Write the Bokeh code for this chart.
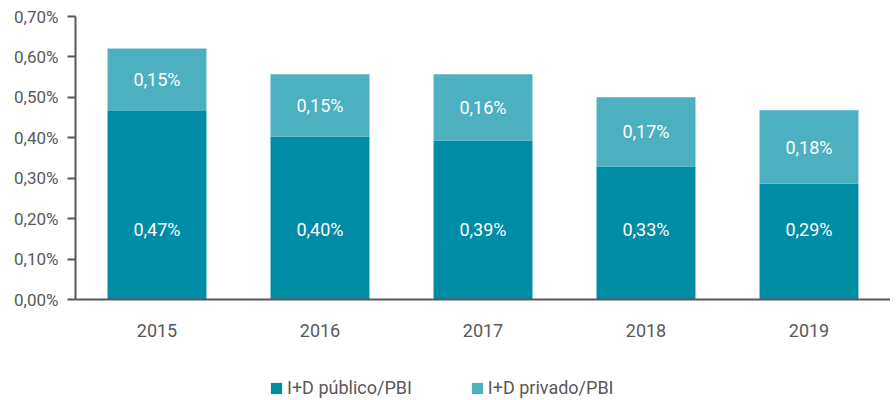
from bokeh.plotting import figure
from bokeh.layouts import column
from bokeh.models import ColumnDataSource, FactorRange, Range1d, Legend, LegendItem, CustomJSTickFormatter, FixedTicker
from bokeh.core.properties import value
from bokeh.embed import file_html
from bokeh.resources import INLINE

years = ["2015", "2016", "2017", "2018", "2019"]
publico = [0.466, 0.403, 0.393, 0.329, 0.286]   # % del PBI
privado = [0.155, 0.154, 0.164, 0.171, 0.182]   # % del PBI
y_ticks = [0.0, 0.1, 0.2, 0.3, 0.4, 0.5, 0.6, 0.7]
serie_names = ["I+D público/PBI", "I+D privado/PBI"]

FONT = "Roboto"
TXT = "#595959"
C_PUB = "#008CA5"
C_PRI = "#4DB0C0"

def fmt(v):
    return f"{v:.2f}".replace(".", ",") + "%"

total = [a + b for a, b in zip(publico, privado)]
src = ColumnDataSource(dict(
    x=years, pub=publico, pri=privado, tot=total,
    pub_lab=[fmt(v) for v in publico],
    pri_lab=[fmt(v) for v in privado],
    pub_y=[0.172] * len(years),
    pri_y=[a + b / 2 for a, b in zip(publico, privado)],
))

W = 890
p = figure(x_range=FactorRange(*years, range_padding=0.0), y_range=Range1d(0, 0.7),
           width=W, height=346, output_backend="svg", toolbar_location=None,
           min_border_left=75, min_border_right=0, min_border_top=16, min_border_bottom=47)
p.outline_line_color = None
p.xgrid.grid_line_color = None
p.ygrid.grid_line_color = None

r1 = p.vbar(x="x", top="pub", bottom=0, width=0.607, source=src, color=C_PUB, line_color=None)
r2 = p.vbar(x="x", top="tot", bottom="pub", width=0.607, source=src, color=C_PRI, line_color=None)

p.text(x="x", y="pub_y", text="pub_lab", source=src, text_color="white", text_align="center",
       text_baseline="middle", text_font=value(FONT), text_font_size="18px")
p.text(x="x", y="pri_y", text="pri_lab", source=src, text_color="white", text_align="center",
       text_baseline="middle", text_font=value(FONT), text_font_size="18px")

p.yaxis.ticker = FixedTicker(ticks=y_ticks)
p.yaxis.formatter = CustomJSTickFormatter(code="return tick.toFixed(2).replace('.', ',') + '%';")
p.yaxis.axis_line_color = TXT
p.yaxis.axis_line_width = 2
p.yaxis.major_tick_line_color = TXT
p.yaxis.major_tick_line_width = 2
p.yaxis.major_tick_out = 8
p.yaxis.major_tick_in = 0
p.yaxis.minor_tick_line_color = None
p.yaxis.major_label_standoff = 9
p.yaxis.major_label_text_font = FONT
p.yaxis.major_label_text_font_size = "17px"
p.yaxis.major_label_text_color = TXT

p.xaxis.axis_line_color = TXT
p.xaxis.axis_line_width = 2
p.xaxis.major_tick_line_color = None
p.xaxis.minor_tick_line_color = None
p.xaxis.major_label_standoff = 18
p.xaxis.major_label_text_font = FONT
p.xaxis.major_label_text_font_size = "18px"
p.xaxis.major_label_text_color = TXT

# legend in its own strip below the chart (frame aligned with the chart's frame)
lf = figure(width=W, height=54, output_backend="svg", toolbar_location=None,
            x_range=Range1d(0, 1), y_range=Range1d(0, 1),
            x_axis_location=None, y_axis_location=None,
            min_border=0, outline_line_color=None)
lf.grid.visible = False
off = ColumnDataSource(dict(x=[-10], top=[-10]))
l1 = lf.vbar(x="x", top="top", width=0.1, source=off, color=C_PUB, line_color=None)
l2 = lf.vbar(x="x", top="top", width=0.1, source=off, color=C_PRI, line_color=None)
legend = Legend(items=[LegendItem(label=serie_names[0], renderers=[l1]),
                       LegendItem(label=serie_names[1], renderers=[l2])],
                orientation="horizontal", location=(194, 2),
                label_text_font=FONT, label_text_font_size="18px", label_text_color=TXT,
                glyph_width=14, glyph_height=14, spacing=58, label_standoff=4,
                border_line_color=None, background_fill_alpha=0, margin=0, padding=0)
lf.add_layout(legend, "center")

open("out.html", "w").write(file_html(column(p, lf, spacing=0), INLINE))
